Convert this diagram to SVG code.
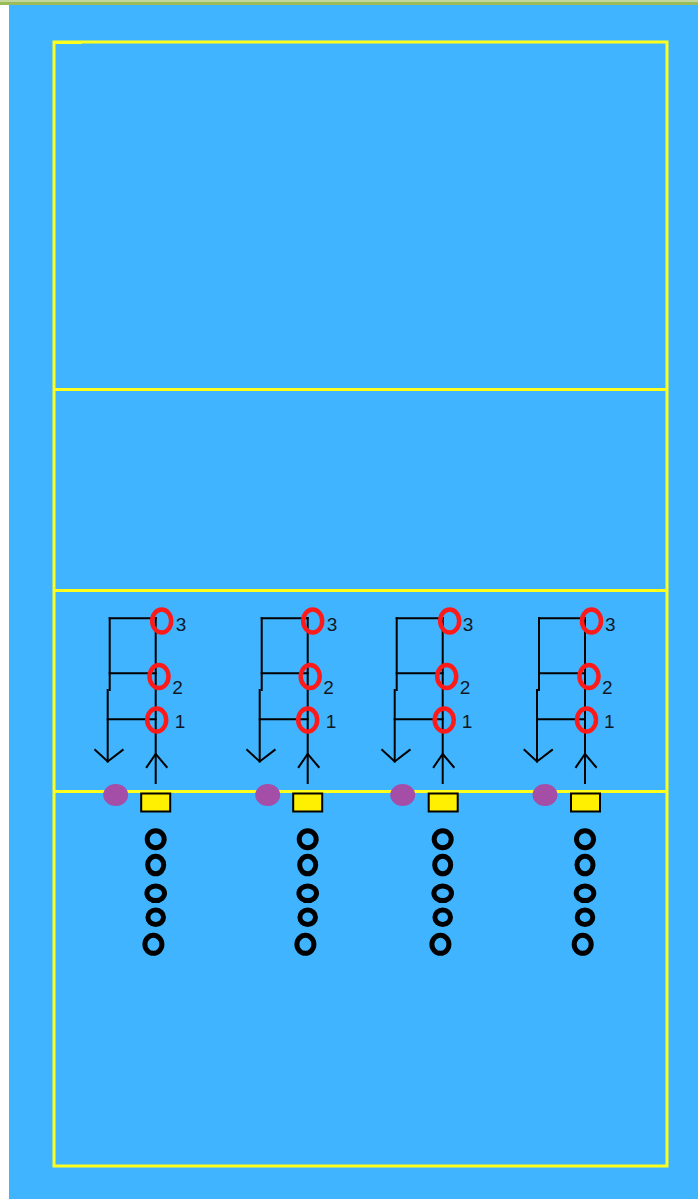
<svg xmlns="http://www.w3.org/2000/svg" width="698" height="1199" viewBox="0 0 698 1199">
<style>
.court{fill:none;stroke:#FFFF1E;stroke-width:3}
.ln{fill:none;stroke:#000;stroke-width:2;stroke-linecap:square}
.red{fill:none;stroke:#FF1A1A;stroke-width:4.5}
.blk{fill:none;stroke:#000;stroke-width:5}
.pur{fill:#A44EA8}
.box{fill:#FFEF00;stroke:#000;stroke-width:2}
.num{font-family:"Liberation Sans",Arial,sans-serif;font-size:19px;fill:#101828}
</style>
<rect x="0" y="0" width="698" height="1199" fill="#40B4FF"/>
<rect x="0" y="5" width="9" height="1194" fill="#FFFFFF"/>
<rect x="0" y="0" width="698" height="5" fill="#9BBB59"/>
<rect x="0" y="0" width="698" height="2" fill="#C3D69B"/>
<g id="court">
<rect class="court" x="54" y="42" width="613" height="1124"/>
<line class="court" x1="54" y1="42.5" x2="82" y2="42.5" stroke-width="4"/>
<line class="court" x1="54" y1="389.5" x2="667" y2="389.5"/>
<line class="court" x1="54" y1="590.5" x2="667" y2="590.5"/>
<line class="court" x1="54" y1="791.5" x2="667" y2="791.5"/>
</g>
<g id="station1" transform="translate(155.7,0)">
<g id="connectors1">
<line class="ln" x1="0" y1="618" x2="0" y2="783"/>
<polyline class="ln" points="-9,767 0,754 11,767"/>
<line class="ln" x1="-46" y1="618.3" x2="0" y2="618.3"/>
<line class="ln" x1="-46" y1="618.3" x2="-46" y2="690"/>
<line class="ln" x1="-48" y1="690" x2="-48" y2="761.5"/>
<line class="ln" x1="-46" y1="673.3" x2="0" y2="673.3"/>
<line class="ln" x1="-48" y1="719.3" x2="0" y2="719.3"/>
<polyline class="ln" points="-60.5,750 -48,761.5 -33,750"/>
</g>
<ellipse class="red" cx="6" cy="621" rx="9.5" ry="11.5"/>
<ellipse class="red" cx="3.3" cy="676.5" rx="9.5" ry="11.5"/>
<ellipse class="red" cx="1" cy="720" rx="9.5" ry="11.5"/>
<text class="num" x="20" y="631">3</text>
<text class="num" x="16.5" y="694">2</text>
<text class="num" x="19" y="728">1</text>
<ellipse class="pur" cx="-40" cy="795" rx="12.5" ry="11"/>
<rect class="box" x="-14.5" y="793.5" width="29" height="18"/>
<ellipse class="blk" cx="0" cy="839.3" rx="8.5" ry="8.5"/>
<ellipse class="blk" cx="0" cy="865" rx="8" ry="8.8"/>
<ellipse class="blk" cx="0" cy="893.3" rx="8.8" ry="7.3"/>
<ellipse class="blk" cx="0" cy="917.3" rx="7.8" ry="7.2"/>
<ellipse class="blk" cx="-2.3" cy="944.3" rx="8.5" ry="9"/>
</g>
<g id="station2" transform="translate(307.7,0)">
<g id="connectors2">
<line class="ln" x1="0" y1="618" x2="0" y2="783"/>
<polyline class="ln" points="-9,767 0,754 11,767"/>
<line class="ln" x1="-46" y1="618.3" x2="0" y2="618.3"/>
<line class="ln" x1="-46" y1="618.3" x2="-46" y2="690"/>
<line class="ln" x1="-48" y1="690" x2="-48" y2="761.5"/>
<line class="ln" x1="-46" y1="673.3" x2="0" y2="673.3"/>
<line class="ln" x1="-48" y1="719.3" x2="0" y2="719.3"/>
<polyline class="ln" points="-60.5,750 -48,761.5 -33,750"/>
</g>
<ellipse class="red" cx="5" cy="621" rx="9.5" ry="11.5"/>
<ellipse class="red" cx="2.5" cy="676.5" rx="9.5" ry="11.5"/>
<ellipse class="red" cx="0" cy="720" rx="9.5" ry="11.5"/>
<text class="num" x="19" y="631">3</text>
<text class="num" x="15.5" y="694">2</text>
<text class="num" x="18" y="728">1</text>
<ellipse class="pur" cx="-40" cy="795" rx="12.5" ry="11"/>
<rect class="box" x="-14.5" y="793.5" width="29" height="18"/>
<ellipse class="blk" cx="0" cy="839.3" rx="8.5" ry="8.5"/>
<ellipse class="blk" cx="0" cy="865" rx="8" ry="8.8"/>
<ellipse class="blk" cx="0" cy="893.3" rx="8.8" ry="7.3"/>
<ellipse class="blk" cx="0" cy="917.3" rx="7.8" ry="7.2"/>
<ellipse class="blk" cx="-2.3" cy="944.3" rx="8.5" ry="9"/>
</g>
<g id="station3" transform="translate(442.7,0)">
<g id="connectors3">
<line class="ln" x1="0" y1="618" x2="0" y2="783"/>
<polyline class="ln" points="-9,767 0,754 11,767"/>
<line class="ln" x1="-46" y1="618.3" x2="0" y2="618.3"/>
<line class="ln" x1="-46" y1="618.3" x2="-46" y2="690"/>
<line class="ln" x1="-48" y1="690" x2="-48" y2="761.5"/>
<line class="ln" x1="-46" y1="673.3" x2="0" y2="673.3"/>
<line class="ln" x1="-48" y1="719.3" x2="0" y2="719.3"/>
<polyline class="ln" points="-60.5,750 -48,761.5 -33,750"/>
</g>
<ellipse class="red" cx="7" cy="621" rx="9.5" ry="11.5"/>
<ellipse class="red" cx="4" cy="676.5" rx="9.5" ry="11.5"/>
<ellipse class="red" cx="1.5" cy="720" rx="9.5" ry="11.5"/>
<text class="num" x="20" y="631">3</text>
<text class="num" x="17" y="694">2</text>
<text class="num" x="19" y="728">1</text>
<ellipse class="pur" cx="-40" cy="795" rx="12.5" ry="11"/>
<rect class="box" x="-14" y="793.5" width="29" height="18"/>
<ellipse class="blk" cx="0" cy="839.3" rx="8.5" ry="8.5"/>
<ellipse class="blk" cx="0" cy="865" rx="8" ry="8.8"/>
<ellipse class="blk" cx="0" cy="893.3" rx="8.8" ry="7.3"/>
<ellipse class="blk" cx="0" cy="917.3" rx="7.8" ry="7.2"/>
<ellipse class="blk" cx="-2.3" cy="944.3" rx="8.5" ry="9"/>
</g>
<g id="station4" transform="translate(585,0)">
<g id="connectors4">
<line class="ln" x1="0" y1="618" x2="0" y2="783"/>
<polyline class="ln" points="-9,767 0,754 11,767"/>
<line class="ln" x1="-46" y1="618.3" x2="0" y2="618.3"/>
<line class="ln" x1="-46" y1="618.3" x2="-46" y2="690"/>
<line class="ln" x1="-48" y1="690" x2="-48" y2="761.5"/>
<line class="ln" x1="-46" y1="673.3" x2="0" y2="673.3"/>
<line class="ln" x1="-48" y1="719.3" x2="0" y2="719.3"/>
<polyline class="ln" points="-60.5,750 -48,761.5 -33,750"/>
</g>
<ellipse class="red" cx="6.5" cy="621" rx="9.5" ry="11.5"/>
<ellipse class="red" cx="4" cy="676.5" rx="9.5" ry="11.5"/>
<ellipse class="red" cx="1.5" cy="720" rx="9.5" ry="11.5"/>
<text class="num" x="20" y="631">3</text>
<text class="num" x="17" y="694">2</text>
<text class="num" x="19" y="728">1</text>
<ellipse class="pur" cx="-40" cy="795" rx="12.5" ry="11"/>
<rect class="box" x="-14" y="793.5" width="29" height="18"/>
<ellipse class="blk" cx="0" cy="839.3" rx="8.5" ry="8.5"/>
<ellipse class="blk" cx="0" cy="865" rx="8" ry="8.8"/>
<ellipse class="blk" cx="0" cy="893.3" rx="8.8" ry="7.3"/>
<ellipse class="blk" cx="0" cy="917.3" rx="7.8" ry="7.2"/>
<ellipse class="blk" cx="-2.3" cy="944.3" rx="8.5" ry="9"/>
</g>
</svg>
